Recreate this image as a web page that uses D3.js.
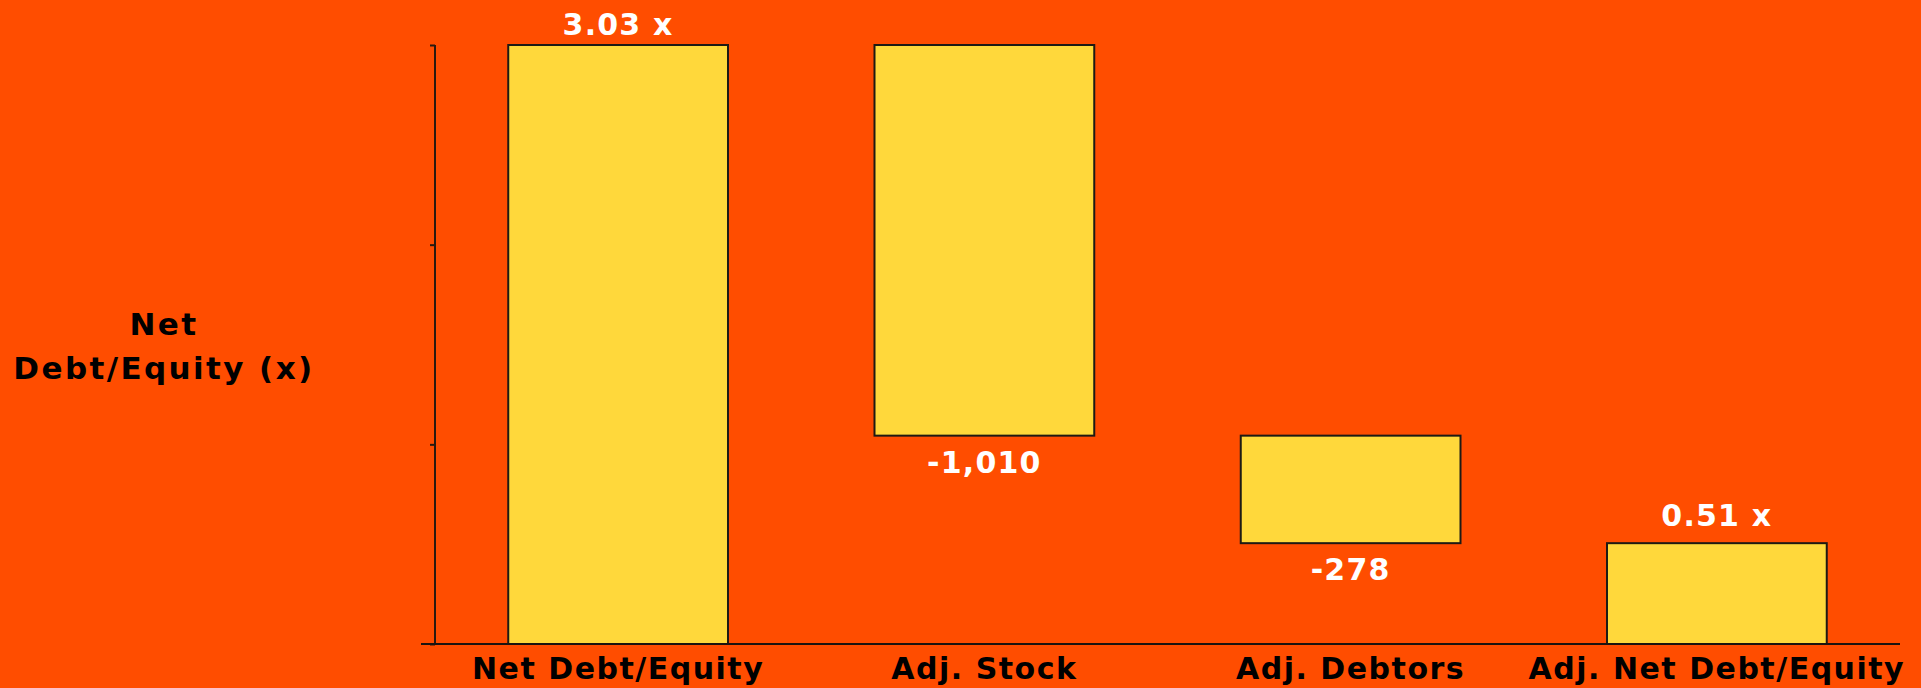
<!DOCTYPE html>
<html>
<head>
<meta charset="utf-8">
<script src="https://cdn.jsdelivr.net/npm/d3@7"></script>
<style>
  html, body { margin: 0; padding: 0; background: #FF4D00; }
  svg { display: block; }
</style>
</head>
<body>
<svg id="chart" width="1921" height="688"></svg>
<script>
// Bridge from reported to adjusted net debt / equity
const categories = ["Net Debt/Equity", "Adj. Stock", "Adj. Debtors", "Adj. Net Debt/Equity"];
const startRatio = 3.03;          // reported net debt / equity (x)
const endRatio = 0.51;            // adjusted net debt / equity (x)
const adjustments = [-1010, -278]; // adjustments to net debt
const valueLabels = ["3.03 x", "-1,010", "-278", "0.51 x"];
const yTickValues = [0, 1.01, 2.02, 3.03];

const W = 1921, H = 688;
const svg = d3.select("#chart");

svg.append("rect").attr("width", W).attr("height", H).attr("fill", "#FF4D00");

// Equity implied by the two ratios and the total adjustment
const equity = d3.sum(adjustments) / (endRatio - startRatio);

// Build waterfall segments in ratio units
const bars = [];
bars.push({ cat: categories[0], lo: 0, hi: startRatio, label: valueLabels[0], kind: "total" });
let level = startRatio;
adjustments.forEach((a, i) => {
  const next = level + a / equity;
  bars.push({ cat: categories[i + 1], lo: Math.min(level, next), hi: Math.max(level, next), label: valueLabels[i + 1], kind: a < 0 ? "down" : "up" });
  level = next;
});
bars.push({ cat: categories[3], lo: 0, hi: endRatio, label: valueLabels[3], kind: "total" });

const x = d3.scaleBand().domain(categories).range([435, 1900]).paddingInner(0.4).paddingOuter(0.2);
const y = d3.scaleLinear().domain([0, startRatio]).range([644, 45]);

// Bars
svg.append("g").selectAll("rect").data(bars).join("rect")
  .attr("x", d => x(d.cat))
  .attr("y", d => y(d.hi))
  .attr("width", x.bandwidth())
  .attr("height", d => y(d.lo) - y(d.hi))
  .attr("fill", "#FFD83B")
  .attr("stroke", "#1e1a14")
  .attr("stroke-width", 2);

// Y axis (no tick labels)
const yAxis = d3.axisLeft(y).tickValues(yTickValues).tickSize(5).tickFormat("");
const gy = svg.append("g").attr("transform", "translate(435,0)").call(yAxis);
gy.select(".domain").attr("stroke", "#2a1a10").attr("stroke-width", 2).attr("d", `M0,${y(startRatio)}V${y(0)}`);
gy.selectAll(".tick line").attr("stroke", "#2a1a10").attr("stroke-width", 2);

// Baseline / category axis
const xAxis = d3.axisBottom(x).tickSize(0).tickPadding(0);
const gx = svg.append("g").attr("transform", `translate(0,${y(0)})`).call(xAxis);
gx.select(".domain").attr("stroke", "#1a1410").attr("stroke-width", 2).attr("d", `M421,0H1900`);
gx.selectAll(".tick text")
  .attr("y", 35)
  .attr("dy", 0)
  .attr("fill", "#000")
  .style("font-family", "'DejaVu Sans', Verdana, sans-serif")
  .style("font-weight", "bold")
  .style("font-size", "30px")
  .style("letter-spacing", "1.5px");

// Value labels
svg.append("g").selectAll("text").data(bars).join("text")
  .attr("x", d => x(d.cat) + x.bandwidth() / 2)
  .attr("y", d => d.kind === "total" ? Math.max(35, y(d.hi) - 17) : y(d.lo) + 37)
  .attr("text-anchor", "middle")
  .attr("fill", "#fff")
  .style("font-family", "'DejaVu Sans', Verdana, sans-serif")
  .style("font-weight", "bold")
  .style("font-size", "30px")
  .style("letter-spacing", "1.2px")
  .text(d => d.label);

// Y axis title
const title = svg.append("text")
  .attr("x", 164)
  .attr("text-anchor", "middle")
  .attr("fill", "#000")
  .style("font-family", "'DejaVu Sans', Verdana, sans-serif")
  .style("font-weight", "bold")
  .style("font-size", "31px")
  .style("letter-spacing", "2.4px");
title.append("tspan").attr("x", 164).attr("y", 335).text("Net");
title.append("tspan").attr("x", 164).attr("y", 379).text("Debt/Equity (x)");
</script>
</body>
</html>
